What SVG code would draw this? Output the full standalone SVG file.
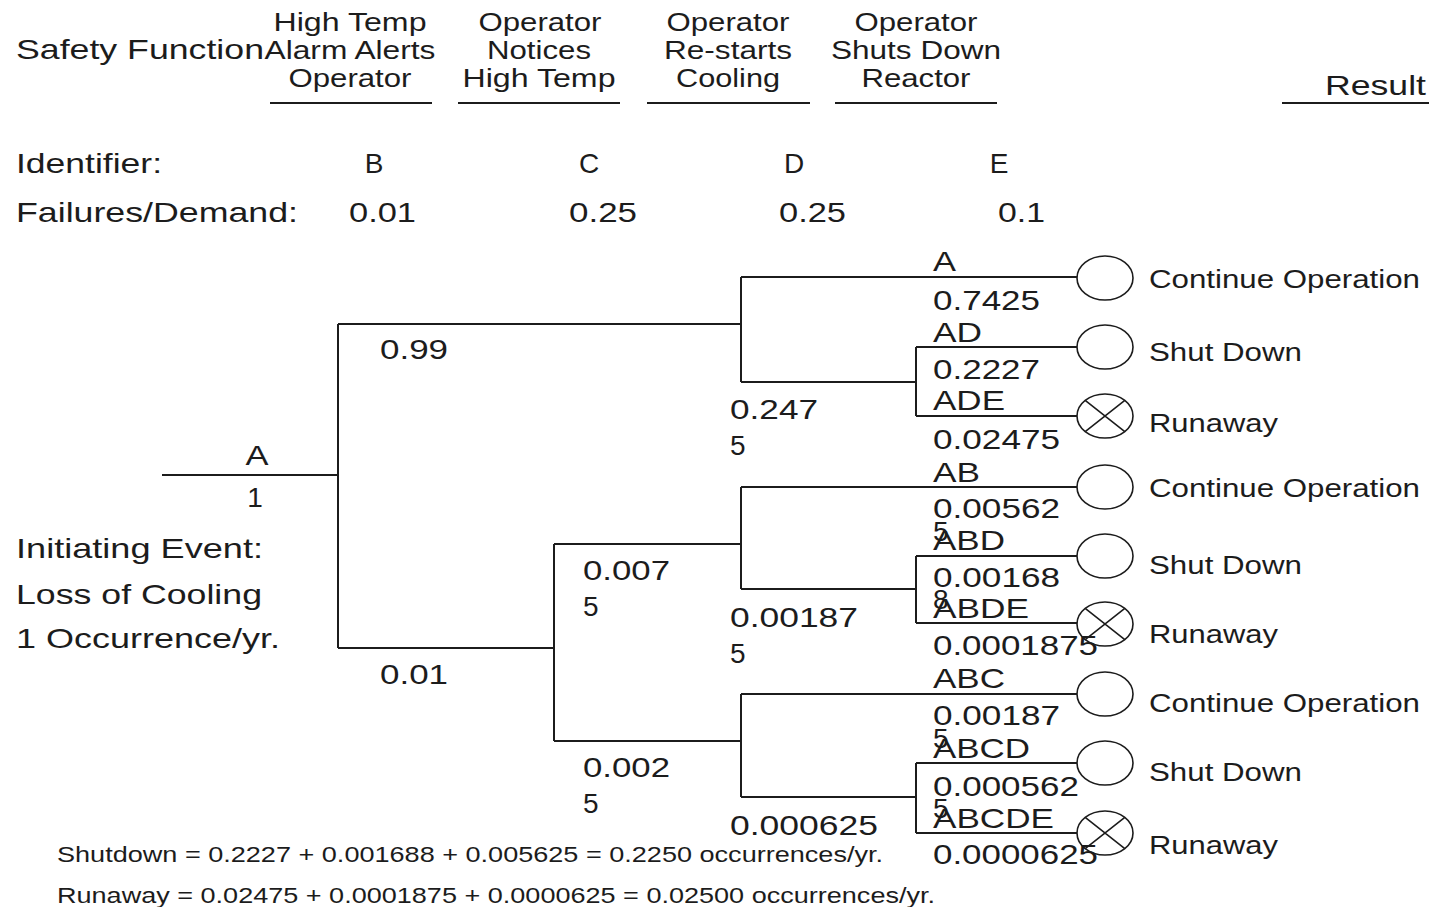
<svg xmlns="http://www.w3.org/2000/svg" width="1429" height="907" viewBox="0 0 1429 907">
<style>
text{font-family:"Liberation Sans",Arial,sans-serif;fill:#1c1c1c;}
.h{font-size:25px;text-anchor:middle;}
.l{font-size:28px;}
.t{font-size:28px;}
.r{font-size:25px;}
.e{font-size:22px;}
.ln{stroke:#1c1c1c;stroke-width:2;fill:none;}
.c{stroke:#1c1c1c;stroke-width:1.6;fill:none;}
</style>
<rect width="1429" height="907" fill="#ffffff"/>
<g id="header">
<text class="l" x="16" y="59" textLength="248" lengthAdjust="spacingAndGlyphs">Safety Function</text>
<text class="h" x="350" y="31" textLength="153" lengthAdjust="spacingAndGlyphs">High Temp</text>
<text class="h" x="350" y="59" textLength="171" lengthAdjust="spacingAndGlyphs">Alarm Alerts</text>
<text class="h" x="350" y="87" textLength="123" lengthAdjust="spacingAndGlyphs">Operator</text>
<text class="h" x="540" y="31" textLength="123" lengthAdjust="spacingAndGlyphs">Operator</text>
<text class="h" x="539" y="59" textLength="104" lengthAdjust="spacingAndGlyphs">Notices</text>
<text class="h" x="539" y="87" textLength="153" lengthAdjust="spacingAndGlyphs">High Temp</text>
<text class="h" x="728" y="31" textLength="123" lengthAdjust="spacingAndGlyphs">Operator</text>
<text class="h" x="728" y="59" textLength="128" lengthAdjust="spacingAndGlyphs">Re-starts</text>
<text class="h" x="728" y="87" textLength="104" lengthAdjust="spacingAndGlyphs">Cooling</text>
<text class="h" x="916" y="31" textLength="123" lengthAdjust="spacingAndGlyphs">Operator</text>
<text class="h" x="916" y="59" textLength="170" lengthAdjust="spacingAndGlyphs">Shuts Down</text>
<text class="h" x="916" y="87" textLength="109" lengthAdjust="spacingAndGlyphs">Reactor</text>
<text class="l" x="1325" y="95" textLength="101" lengthAdjust="spacingAndGlyphs">Result</text>
<path class="ln" d="M270,103H432M458,103H620M647,103H810M835,103H997M1282,103H1429"/>
<text class="l" x="16" y="173" textLength="146" lengthAdjust="spacingAndGlyphs">Identifier:</text>
<text class="l" x="374" y="173" text-anchor="middle">B</text>
<text class="l" x="589" y="173" text-anchor="middle">C</text>
<text class="l" x="794" y="173" text-anchor="middle">D</text>
<text class="l" x="999" y="173" text-anchor="middle">E</text>
<text class="l" x="16" y="222" textLength="282" lengthAdjust="spacingAndGlyphs">Failures/Demand:</text>
<text class="l" x="349" y="222" textLength="67" lengthAdjust="spacingAndGlyphs">0.01</text>
<text class="l" x="569" y="222" textLength="68" lengthAdjust="spacingAndGlyphs">0.25</text>
<text class="l" x="779" y="222" textLength="67" lengthAdjust="spacingAndGlyphs">0.25</text>
<text class="l" x="998" y="222" textLength="47" lengthAdjust="spacingAndGlyphs">0.1</text>
</g>
<g id="initiating-event">
<text class="l" x="16" y="558" textLength="247" lengthAdjust="spacingAndGlyphs">Initiating Event:</text>
<text class="l" x="16" y="604" textLength="246" lengthAdjust="spacingAndGlyphs">Loss of Cooling</text>
<text class="l" x="16" y="648" textLength="264" lengthAdjust="spacingAndGlyphs">1 Occurrence/yr.</text>
</g>
<g id="connectors">
<path class="ln" d="M162,475H338M338,324V648M338,324H741M338,648H554"/>
<path class="ln" d="M741,277V382M741,277H1077M741,382H916M916,347V416M916,347H1077M916,416H1077"/>
<path class="ln" d="M554,544V741M554,544H741M554,741H741"/>
<path class="ln" d="M741,487V589M741,487H1077M741,589H916M916,556V623M916,556H1077M916,623H1077"/>
<path class="ln" d="M741,694V797M741,694H1077M741,797H916M916,763V833M916,763H1077M916,833H1077"/>
</g>
<g id="branch-labels">
<text class="t" x="257" y="465" text-anchor="middle" textLength="23" lengthAdjust="spacingAndGlyphs">A</text>
<text class="t" x="255" y="507" text-anchor="middle">1</text>
<text class="t" x="380" y="359" textLength="68" lengthAdjust="spacingAndGlyphs">0.99</text>
<text class="t" x="380" y="684" textLength="68" lengthAdjust="spacingAndGlyphs">0.01</text>
<text class="t" x="583" y="580" textLength="87" lengthAdjust="spacingAndGlyphs">0.007</text>
<text class="t" x="583" y="616">5</text>
<text class="t" x="583" y="777" textLength="87" lengthAdjust="spacingAndGlyphs">0.002</text>
<text class="t" x="583" y="813">5</text>
<text class="t" x="730" y="419" textLength="88" lengthAdjust="spacingAndGlyphs">0.247</text>
<text class="t" x="730" y="455">5</text>
<text class="t" x="730" y="627" textLength="128" lengthAdjust="spacingAndGlyphs">0.00187</text>
<text class="t" x="730" y="663">5</text>
<text class="t" x="730" y="835" textLength="148" lengthAdjust="spacingAndGlyphs">0.000625</text>
</g>
<g id="outcome-1">
<ellipse class="c" cx="1105" cy="278" rx="28" ry="22"/>
<text class="t" x="933" y="271" textLength="23" lengthAdjust="spacingAndGlyphs">A</text>
<text class="t" x="933" y="310" textLength="107" lengthAdjust="spacingAndGlyphs">0.7425</text>
<text class="r" x="1149" y="288" textLength="271" lengthAdjust="spacingAndGlyphs">Continue Operation</text>
</g>
<g id="outcome-2">
<ellipse class="c" cx="1105" cy="347" rx="28" ry="22"/>
<text class="t" x="933" y="342" textLength="49" lengthAdjust="spacingAndGlyphs">AD</text>
<text class="t" x="933" y="379" textLength="107" lengthAdjust="spacingAndGlyphs">0.2227</text>
<text class="r" x="1149" y="361" textLength="153" lengthAdjust="spacingAndGlyphs">Shut Down</text>
</g>
<g id="outcome-3">
<ellipse class="c" cx="1105" cy="416" rx="28" ry="22"/>
<path class="c" d="M1085.2,400.4L1124.8,431.6M1124.8,400.4L1085.2,431.6"/>
<text class="t" x="933" y="410" textLength="72" lengthAdjust="spacingAndGlyphs">ADE</text>
<text class="t" x="933" y="449" textLength="127" lengthAdjust="spacingAndGlyphs">0.02475</text>
<text class="r" x="1149" y="432" textLength="129" lengthAdjust="spacingAndGlyphs">Runaway</text>
</g>
<g id="outcome-4">
<ellipse class="c" cx="1105" cy="487" rx="28" ry="22"/>
<text class="t" x="933" y="482" textLength="47" lengthAdjust="spacingAndGlyphs">AB</text>
<text class="t" x="933" y="518" textLength="127" lengthAdjust="spacingAndGlyphs">0.00562</text>
<text class="t" x="933" y="541">5</text>
<text class="r" x="1149" y="497" textLength="271" lengthAdjust="spacingAndGlyphs">Continue Operation</text>
</g>
<g id="outcome-5">
<ellipse class="c" cx="1105" cy="556" rx="28" ry="22"/>
<text class="t" x="933" y="550" textLength="72" lengthAdjust="spacingAndGlyphs">ABD</text>
<text class="t" x="933" y="587" textLength="127" lengthAdjust="spacingAndGlyphs">0.00168</text>
<text class="t" x="933" y="609">8</text>
<text class="r" x="1149" y="574" textLength="153" lengthAdjust="spacingAndGlyphs">Shut Down</text>
</g>
<g id="outcome-6">
<ellipse class="c" cx="1105" cy="624" rx="28" ry="22"/>
<path class="c" d="M1085.2,608.4L1124.8,639.6M1124.8,608.4L1085.2,639.6"/>
<text class="t" x="933" y="618" textLength="96" lengthAdjust="spacingAndGlyphs">ABDE</text>
<text class="t" x="933" y="655" textLength="165" lengthAdjust="spacingAndGlyphs">0.0001875</text>
<text class="r" x="1149" y="643" textLength="129" lengthAdjust="spacingAndGlyphs">Runaway</text>
</g>
<g id="outcome-7">
<ellipse class="c" cx="1105" cy="694" rx="28" ry="22"/>
<text class="t" x="933" y="688" textLength="72" lengthAdjust="spacingAndGlyphs">ABC</text>
<text class="t" x="933" y="725" textLength="127" lengthAdjust="spacingAndGlyphs">0.00187</text>
<text class="t" x="933" y="748">5</text>
<text class="r" x="1149" y="712" textLength="271" lengthAdjust="spacingAndGlyphs">Continue Operation</text>
</g>
<g id="outcome-8">
<ellipse class="c" cx="1105" cy="763" rx="28" ry="22"/>
<text class="t" x="933" y="758" textLength="97" lengthAdjust="spacingAndGlyphs">ABCD</text>
<text class="t" x="933" y="796" textLength="146" lengthAdjust="spacingAndGlyphs">0.000562</text>
<text class="t" x="933" y="818">5</text>
<text class="r" x="1149" y="781" textLength="153" lengthAdjust="spacingAndGlyphs">Shut Down</text>
</g>
<g id="outcome-9">
<ellipse class="c" cx="1105" cy="833" rx="28" ry="22"/>
<path class="c" d="M1085.2,817.4L1124.8,848.6M1124.8,817.4L1085.2,848.6"/>
<text class="t" x="933" y="828" textLength="121" lengthAdjust="spacingAndGlyphs">ABCDE</text>
<text class="t" x="933" y="864" textLength="165" lengthAdjust="spacingAndGlyphs">0.0000625</text>
<text class="r" x="1149" y="854" textLength="129" lengthAdjust="spacingAndGlyphs">Runaway</text>
</g>
<g id="totals">
<text class="e" x="57" y="862" textLength="826" lengthAdjust="spacingAndGlyphs">Shutdown = 0.2227 + 0.001688 + 0.005625 = 0.2250 occurrences/yr.</text>
<text class="e" x="57" y="903" textLength="878" lengthAdjust="spacingAndGlyphs">Runaway = 0.02475 + 0.0001875 + 0.0000625 = 0.02500 occurrences/yr.</text>
</g>
</svg>
